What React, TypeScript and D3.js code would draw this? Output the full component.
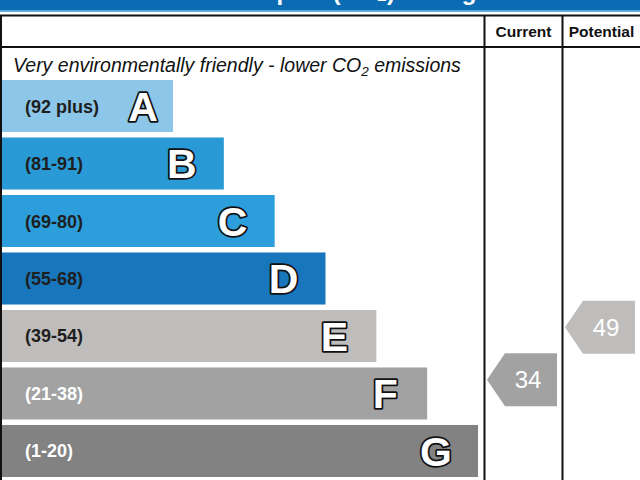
import React from "react";
import * as d3 from "d3";

const bands = ["A", "B", "C", "D", "E", "F", "G"];
const ranges = ["(92 plus)", "(81-91)", "(69-80)", "(55-68)", "(39-54)", "(21-38)", "(1-20)"];
const rangeLo = [92, 81, 69, 55, 39, 21, 1];
const rangeHi = [100, 91, 80, 68, 54, 38, 20];
const bandColors = ["#8cc6e8", "#2a9ad6", "#2c9edb", "#1876bc", "#bebdbc", "#a2a2a3", "#828282"];
const labelColors = ["#1e1e1e", "#1e1e1e", "#1e1e1e", "#1e1e1e", "#1e1e1e", "#ffffff", "#ffffff"];
const columns = ["Current", "Potential"];
const ratings = [34, 49];
const title = "Environmental Impact (CO\u2082) Rating";

const W = 640;
const H = 480;
const FONT = "'Liberation Sans', Arial, sans-serif";

export default function App() {
  const y = d3.scaleBand<string>().domain(bands).range([80, 477]).paddingInner(0.095).paddingOuter(0);
  const xEnd = d3.scaleLinear().domain([0, bands.length - 1]).range([173, 478]);
  const colX = d3.scaleOrdinal<string, number>().domain(columns).range([485, 563]);
  const bw = y.bandwidth();

  const bandOf = (v: number) => rangeLo.findIndex((lo, i) => v >= lo && v <= rangeHi[i]);

  return (
    <svg width={W} height={H} style={{ position: "absolute", left: 0, top: 0, background: "#fff" }} fontFamily={FONT}>
      {/* header band */}
      <rect x={0} y={0} width={W} height={10} fill="#0b6cb4" />
      <rect x={0} y={10} width={W} height={2} fill="#5ea9dc" />
      <text x={75} y={-0.5} fill="#fff" fontSize={24} fontWeight="bold">{title}</text>

      {/* table lines */}
      <line x1={0} x2={W} y1={15.5} y2={15.5} stroke="#111" strokeWidth={2} />
      <line x1={0} x2={W} y1={47} y2={47} stroke="#111" strokeWidth={2} />
      <line x1={1} x2={1} y1={15} y2={H} stroke="#111" strokeWidth={2} />
      {columns.map((c) => (
        <line key={c} x1={colX(c) - 0.5} x2={colX(c) - 0.5} y1={15} y2={H} stroke="#111" strokeWidth={2} />
      ))}
      {columns.map((c) => (
        <text key={c} x={colX(c) + 38.5} y={37} textAnchor="middle" fontSize={15.5} fontWeight="bold" fill="#111">{c}</text>
      ))}

      <text x={13} y={72} fontSize={19.5} fontStyle="italic" fill="#111">
        Very environmentally friendly - lower CO<tspan fontSize={13.5} dy={4}>2</tspan><tspan dy={-4}> emissions</tspan>
      </text>

      {bands.map((b, i) => {
        const top = y(b)!;
        const end = xEnd(i);
        const cy = top + bw / 2;
        const letterX = Math.max(end - 42, 143);
        return (
          <g key={b}>
            <rect x={2} y={top} width={end - 2} height={bw} fill={bandColors[i]} />
            <text x={25} y={cy + 6.5} fontSize={18} fontWeight="bold" fill={labelColors[i]}>{ranges[i]}</text>
            <text x={letterX} y={cy + 14.7} textAnchor="middle" fontSize={41} fontWeight="bold" fill="#fff" stroke="#111" strokeWidth={3.5} strokeLinejoin="round" style={{ paintOrder: "stroke" }}>{b}</text>
          </g>
        );
      })}

      {columns.map((c, k) => {
        const v = ratings[k];
        const bi = bandOf(v);
        const top = y(bands[bi])!;
        const cy = top + ((rangeHi[bi] - v) / (rangeHi[bi] - rangeLo[bi])) * bw;
        const tip = colX(c) + 2;
        const h = bw + 1;
        const depth = 18;
        const wid = 70;
        const path = d3.path();
        path.moveTo(tip, cy);
        path.lineTo(tip + depth, cy - h / 2);
        path.lineTo(tip + wid, cy - h / 2);
        path.lineTo(tip + wid, cy + h / 2);
        path.lineTo(tip + depth, cy + h / 2);
        path.closePath();
        return (
          <g key={c}>
            <path d={path.toString()} fill={bandColors[bi]} />
            <text x={tip + 41} y={cy + 8.6} textAnchor="middle" fontSize={24} fill="#fff">{v}</text>
          </g>
        );
      })}
    </svg>
  );
}
